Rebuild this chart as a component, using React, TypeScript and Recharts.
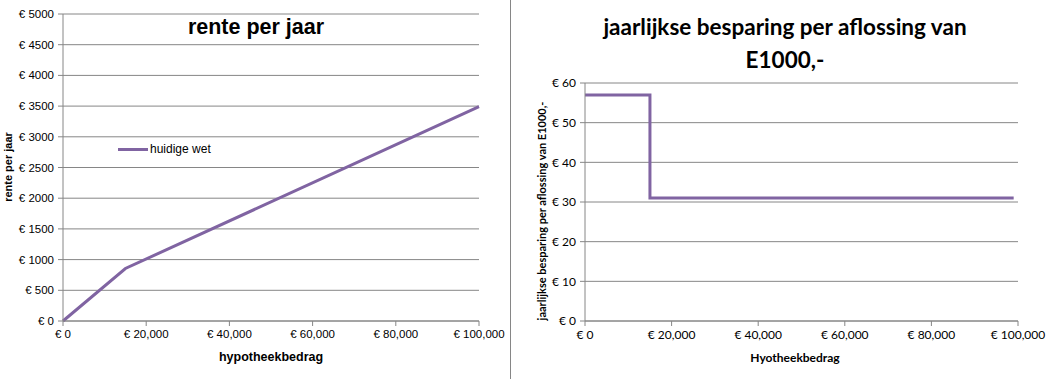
import React from 'react';
import { LineChart, Line, XAxis, YAxis, CartesianGrid } from 'recharts';

// linker grafiek: rente per jaar
const hypotheekBedrag = [0, 15000, 100000];
const rentePerJaar = [0, 855, 3490];

// rechter grafiek: besparing per aflossing van E1000
const besparingBedrag = [0, 15000, 15000, 99000];
const besparingPerAflossing = [57, 57, 31, 31];

const renteTicks = [0, 500, 1000, 1500, 2000, 2500, 3000, 3500, 4000, 4500, 5000];
const besparingTicks = [0, 10, 20, 30, 40, 50, 60];
const bedragTicks = [0, 20000, 40000, 60000, 80000, 100000];

const renteData = hypotheekBedrag.map((x, i) => ({ x, y: rentePerJaar[i] }));
const besparingData = besparingBedrag.map((x, i) => ({ x, y: besparingPerAflossing[i] }));

const PAARS = '#8064A2';
const GRIJS = '#868686';

const euro = (v: number) => `€ ${v}`;
const euroK = (v: number) => `€ ${v.toLocaleString('en-US')}`;

const App: React.FC = () => {
  const tickLeft = { fontSize: 11.5, fill: '#000', fontFamily: 'Liberation Sans' };
  const tickRight = { fontSize: 12, fill: '#000', fontFamily: 'Lato' };

  return (
    <div style={{ position: 'absolute', left: 0, top: 0, width: 1056, height: 379, background: '#fff' }}>
      {/* Left chart */}
      <div style={{ position: 'absolute', left: 0, top: 0, width: 511, height: 379 }}>
        <LineChart width={511} height={379} data={renteData} margin={{ top: 14, right: 32, left: 0, bottom: 0 }}>
          <CartesianGrid vertical={false} stroke={GRIJS} />
          <XAxis
            dataKey="x"
            type="number"
            domain={[0, 100000]}
            ticks={bedragTicks}
            tickFormatter={euroK}
            height={58}
            stroke={GRIJS}
            tick={tickLeft}
            tickSize={5}
            tickMargin={4}
          />
          <YAxis
            type="number"
            domain={[0, 5000]}
            ticks={renteTicks}
            tickFormatter={euro}
            width={63}
            stroke={GRIJS}
            tick={tickLeft}
            tickSize={5}
            tickMargin={4}
          />
          <Line type="linear" dataKey="y" stroke={PAARS} strokeWidth={3} dot={false} isAnimationActive={false} />
        </LineChart>
        <div style={{ position: 'absolute', left: 256, top: 27, transform: 'translate(-50%, -50%)', whiteSpace: 'nowrap', fontFamily: 'Liberation Sans', fontWeight: 'bold', fontSize: 21.5 }}>
          rente per jaar
        </div>
        <div style={{ position: 'absolute', left: 118, top: 142, display: 'flex', alignItems: 'center', fontFamily: 'Liberation Sans', fontSize: 12 }}>
          <div style={{ width: 30, height: 3, background: PAARS, marginRight: 2 }} />
          <span>huidige wet</span>
        </div>
        <div style={{ position: 'absolute', left: 8, top: 167, transform: 'translate(-50%, -50%) rotate(-90deg)', whiteSpace: 'nowrap', fontFamily: 'Liberation Sans', fontWeight: 'bold', fontSize: 11 }}>
          rente per jaar
        </div>
        <div style={{ position: 'absolute', left: 271, top: 357, transform: 'translate(-50%, -50%)', whiteSpace: 'nowrap', fontFamily: 'Liberation Sans', fontWeight: 'bold', fontSize: 12.5 }}>
          hypotheekbedrag
        </div>
        <div style={{ position: 'absolute', left: 510, top: 0, width: 1, height: 379, background: GRIJS }} />
      </div>

      {/* Right chart */}
      <div style={{ position: 'absolute', left: 511, top: 0, width: 545, height: 379 }}>
        <LineChart width={545} height={379} data={besparingData} margin={{ top: 83, right: 38, left: 0, bottom: 0 }}>
          <CartesianGrid vertical={false} stroke={GRIJS} />
          <XAxis
            dataKey="x"
            type="number"
            domain={[0, 100000]}
            ticks={bedragTicks}
            tickFormatter={euroK}
            height={58}
            stroke={GRIJS}
            tick={tickRight}
            tickSize={5}
            tickMargin={4}
          />
          <YAxis
            type="number"
            domain={[0, 60]}
            ticks={besparingTicks}
            tickFormatter={euro}
            width={74}
            stroke={GRIJS}
            tick={tickRight}
            tickSize={5}
            tickMargin={4}
          />
          <Line type="linear" dataKey="y" stroke={PAARS} strokeWidth={3} dot={false} isAnimationActive={false} />
        </LineChart>
        <div style={{ position: 'absolute', left: 274, top: 43, transform: 'translate(-50%, -50%)', textAlign: 'center', whiteSpace: 'nowrap', fontFamily: 'Lato', fontWeight: 'bold', fontSize: 22.5, lineHeight: '33px' }}>
          jaarlijkse besparing per aflossing van
          <br />
          E1000,-
        </div>
        <div style={{ position: 'absolute', left: 30, top: 211, transform: 'translate(-50%, -50%) rotate(-90deg)', whiteSpace: 'nowrap', fontFamily: 'Lato', fontWeight: 'bold', fontSize: 11 }}>
          jaarlijkse besparing per aflossing van E1000,-
        </div>
        <div style={{ position: 'absolute', left: 284, top: 357, transform: 'translate(-50%, -50%)', whiteSpace: 'nowrap', fontFamily: 'Lato', fontWeight: 'bold', fontSize: 12 }}>
          Hyotheekbedrag
        </div>
      </div>
    </div>
  );
};

export default App;
